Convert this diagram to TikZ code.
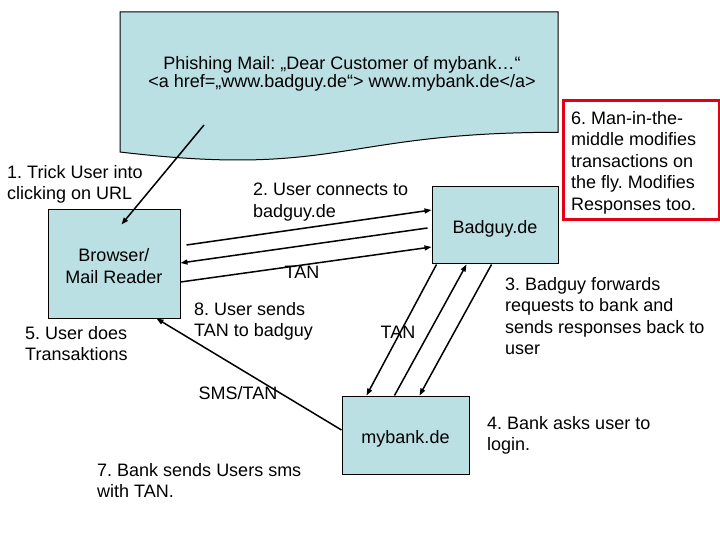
\documentclass[tikz,border=0pt]{standalone}
\usepackage{fontspec}
\setmainfont{Liberation Sans}
\usetikzlibrary{arrows.meta,calc}
\definecolor{boxfill}{RGB}{187,224,227}
\definecolor{boxred}{RGB}{228,0,20}
\newcommand{\lbfont}{\fontsize{18}{21.5}\selectfont}
\newcommand{\lowertext}[2]{\vphantom{Bg}\smash{\raisebox{-#1}{#2}}}
\begin{document}
\frenchspacing
\begin{tikzpicture}[x=1pt,y=-1pt,
  box/.style={draw=black, line width=1pt, fill=boxfill, font=\lbfont, align=center, inner sep=0pt},
  lbl/.style={font=\lbfont, align=left, inner sep=0pt, anchor=north west},
  clbl/.style={font=\lbfont, inner sep=0pt, anchor=center},
  conn/.style={line width=1.5pt, -{Triangle[length=7pt,width=5pt]}}]
\useasboundingbox (0,0) rectangle (720,540);
\fill[white] (0,0) rectangle (720,540);

% phishing mail document shape
\draw[line width=1pt, fill=boxfill] (120,12) -- (558,12) -- (558,132.3)
  .. controls (339,132.3) and (339,178) .. (120,152) -- cycle;
\node[font=\fontsize{18}{18}\selectfont, align=center, inner sep=0pt] (mail) at (342,74)
  {Phishing Mail: „Dear Customer of mybank…“\\<a href=„www.badguy.de“> www.mybank.de</a>};
\coordinate (mailpt) at (204,125);

% boxes
\node[box, minimum width=132pt, minimum height=108pt] (br) at (114,264) {\lowertext{2pt}{\parbox{120pt}{\centering Browser/\\Mail Reader}}};
\node[box, minimum width=126pt, minimum height=76pt] (bad) at (495,225) {\lowertext{4pt}{Badguy.de}};
\node[box, minimum width=127pt, minimum height=78pt] (bank) at (405.5,435) {\lowertext{4pt}{mybank.de}};

% red note box
\node[draw=boxred, line width=3pt, minimum width=156pt, minimum height=119pt, inner sep=0pt] (note) at (641,160.5) {};
\node[lbl] (notetxt) at (571,111) {6. Man-in-the-\\middle modifies\\transactions on\\the fly. Modifies\\Responses too.};

% labels
\node[lbl] (l1) at (7,165) {1. Trick User into\\clicking on URL};
\node[lbl] (l5) at (25,326) {5. User does\\Transaktions};
\node[lbl] (l2) at (253,183) {2. User connects to\\badguy.de};
\node[lbl] (l8) at (194,302) {8. User sends\\TAN to badguy};
\node[lbl] (l3) at (505,277) {3. Badguy forwards\\requests to bank and\\sends responses back to\\user};
\node[lbl] (l4) at (487,416) {4. Bank asks user to\\login.};
\node[lbl] (l7) at (97,463) {7. Bank sends Users sms\\with TAN.};
\node[clbl] (tan1) at (302,272) {TAN};
\node[clbl] (tan2) at (398,332) {TAN};
\node[clbl] (sms) at (238,393) {SMS/TAN};

% connectors
\draw[conn] (mailpt) -- ($(br.north west)+(74,15)$);
\draw[conn] ($(br.east)+(6,-19)$) -- ($(bad.west)+(0,-15)$);
\draw[conn] ($(bad.west)+(-4,3)$) -- ($(br.east)+(0,-1)$);
\draw[conn] ($(br.east)+(0,18)$) -- ($(bad.west)+(0,22)$);
\draw[conn] ($(bad.south west)+(5,1)$) -- ($(bank.north west)+(25,0)$);
\draw[conn] ($(bank.north west)+(53,0)$) -- ($(bad.south west)+(35,1)$);
\draw[conn] ($(bad.south west)+(60,1)$) -- ($(bank.north west)+(78,0)$);
\draw[conn] ($(bank.west)+(0,-5)$) -- ($(br.south west)+(109,0)$);
\end{tikzpicture}
\end{document}
